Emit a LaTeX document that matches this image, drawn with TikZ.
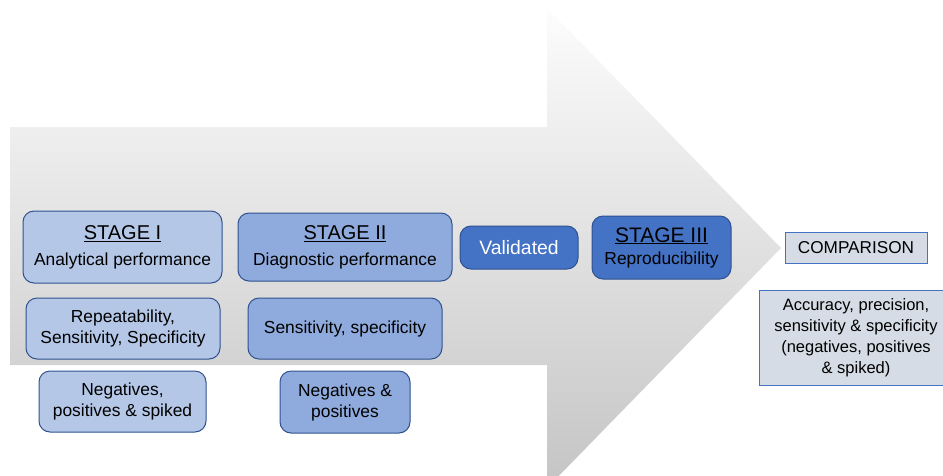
\documentclass[tikz,border=0pt]{standalone}
\usepackage{fontspec}
\setmainfont{Liberation Sans}
\usetikzlibrary{positioning}
\definecolor{lblue}{HTML}{B4C7E7}
\definecolor{mblue}{HTML}{8FAADC}
\definecolor{dblue}{HTML}{4472C4}
\definecolor{edgeblue}{HTML}{2F528F}
\definecolor{cmpfill}{HTML}{D6DCE5}
\begin{document}
\begin{tikzpicture}[x=1pt,y=-1pt,
  basebox/.style={draw=edgeblue, line width=1pt, rounded corners=11pt, align=center, inner sep=0pt,
    font=\fontsize{17.4}{21}\selectfont},
  light/.style={basebox, fill=lblue},
  mid/.style={basebox, fill=mblue},
  dark/.style={basebox, fill=dblue},
  cmp/.style={draw=dblue, line width=1pt, fill=cmpfill, align=center, inner sep=0pt,
    font=\fontsize{17.2}{20}\selectfont}
]
\useasboundingbox (0,0) rectangle (943,475);
% big arrow
\shade[top color=white!99!black, bottom color=black!23]
  (10,127) -- (547,127) -- (547,8) -- (781,248) -- (547,488) -- (547,365) -- (10,365) -- cycle;

\node[light, minimum width=199, minimum height=72] (s1) at (122.5,247)
  {{\fontsize{20}{24}\selectfont\underline{STAGE I}}\\[5pt]Analytical performance};
\node[mid, minimum width=214, minimum height=68] (s2) at (345,247)
  {{\fontsize{20}{24}\selectfont\underline{STAGE II}}\\[5pt]Diagnostic performance};
\node[dark, text=white, minimum width=118, minimum height=43] (val) at (519,247.5)
  {\fontsize{19.4}{22}\selectfont Validated};
\node[dark, minimum width=139, minimum height=63] (s3) at (661.5,247.5)
  {{\fontsize{21}{21}\selectfont\underline{STAGE III}}\\[1pt]Reproducibility};

\node[light, minimum width=194, minimum height=61] (rep) at (123,328.5)
  {Repeatability,\\Sensitivity, Specificity};
\node[mid, minimum width=194, minimum height=61] (sens) at (345,328.5)
  {Sensitivity, specificity};
\node[light, minimum width=167, minimum height=61] (neg1) at (122.5,401.5)
  {Negatives,\\positives \& spiked};
\node[mid, minimum width=130, minimum height=62] (neg2) at (345,402)
  {Negatives \&\\positives};

\node[cmp, minimum width=142, minimum height=31] (cmp) at (856,247.5) {COMPARISON};
\node[cmp, minimum width=194, minimum height=95, font=\fontsize{16.5}{21}\selectfont] (acc) at (856,337.5)
  {Accuracy, precision,\\sensitivity \& specificity\\(negatives, positives\\\& spiked)};
\end{tikzpicture}
\end{document}
